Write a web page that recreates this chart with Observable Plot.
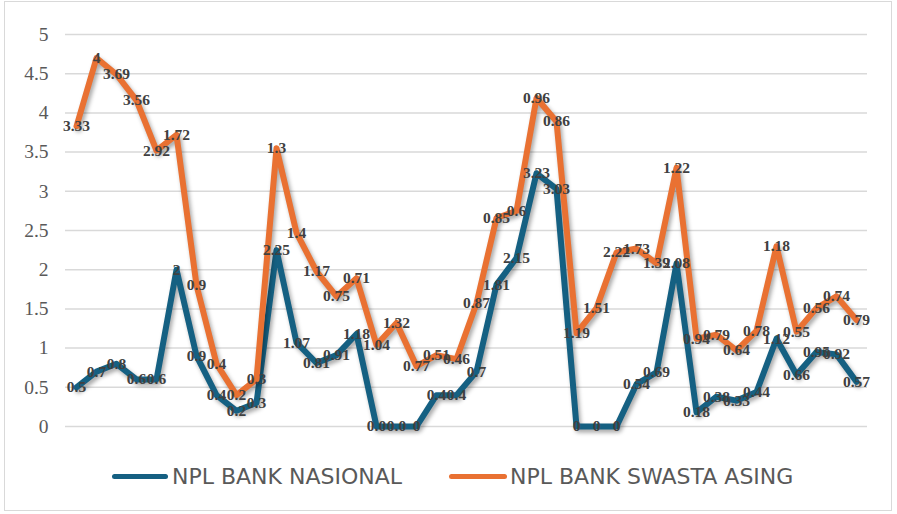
<!DOCTYPE html>
<html>
<head>
<meta charset="utf-8">
<script src="https://cdn.jsdelivr.net/npm/d3@7"></script>
<script src="https://cdn.jsdelivr.net/npm/@observablehq/plot@0.6"></script>
<style>
  html, body { margin: 0; padding: 0; background: #fff; }
  #wrap { position: relative; width: 897px; height: 514px; overflow: hidden; background: #fff; }
  #frame { position: absolute; left: 4px; top: 1px; width: 888px; height: 510px; border: 1.5px solid #d9d9d9; box-sizing: border-box; pointer-events: none; }
  #chart { position: absolute; left: 0; top: 0; }
  #chart g[aria-label="line"] { filter: drop-shadow(2px 3px 2px rgba(0,0,0,0.35)); }
  #legend { position: absolute; left: 112px; top: 462px; height: 28px; display: flex; align-items: center;
            font-family: "DejaVu Sans", Verdana, sans-serif; font-size: 22px; color: #595959; white-space: nowrap; }
  .sw { height: 5px; border-radius: 3px; display: inline-block; }
</style>
</head>
<body>
<div id="wrap">
  <div id="chart"></div>
  <div id="legend">
    <span class="sw" style="width:56px;background:#156082;margin-right:4px"></span>
    <span id="lab1"></span>
    <span class="sw" style="width:58px;background:#E97132;margin-left:47px;margin-right:3px"></span>
    <span id="lab2"></span>
  </div>
  <div id="frame"></div>
</div>
<script>
const seriesNames = ["NPL BANK NASIONAL", "NPL BANK SWASTA ASING"];
const periods = [1,2,3,4,5,6,7,8,9,10,11,12,13,14,15,16,17,18,19,20,21,22,23,24,25,26,27,28,29,30,31,32,33,34,35,36,37,38,39,40];
const nplNasional = [0.5,0.7,0.8,0.6,0.6,2,0.9,0.4,0.2,0.3,2.25,1.07,0.81,0.91,1.18,0,0,0,0.4,0.4,0.7,1.81,2.15,3.23,3.03,0,0,0,0.54,0.69,2.08,0.18,0.38,0.33,0.44,1.12,0.66,0.95,0.92,0.57];
const nplNasionalLabels = ["0.5","0.7","0.8","0.6","0.6","2","0.9","0.4","0.2","0.3","2.25","1.07","0.81","0.91","1.18","0.0","0.0","0","0.4","0.4","0.7","1.81","2.15","3.23","3.03","0","0","0","0.54","0.69","2.08","0.18","0.38","0.33","0.44","1.12","0.66","0.95","0.92","0.57"];
const nplSwastaAsing = [3.33,4,3.69,3.56,2.92,1.72,0.9,0.4,0.2,0.3,1.3,1.4,1.17,0.75,0.71,1.04,1.32,0.77,0.51,0.46,0.87,0.85,0.6,0.96,0.86,1.19,1.51,2.22,1.73,1.39,1.22,0.94,0.79,0.64,0.78,1.18,0.55,0.56,0.74,0.79];
const yTicks = [0,0.5,1,1.5,2,2.5,3,3.5,4,4.5,5];

document.getElementById("lab1").textContent = seriesNames[0];
document.getElementById("lab2").textContent = seriesNames[1];

// stacked line chart: second series drawn on top of the first
const rows = periods.map((p, i) => ({
  period: p,
  a: nplNasional[i],
  aLabel: nplNasionalLabels[i],
  b: nplSwastaAsing[i],
  total: nplNasional[i] + nplSwastaAsing[i],
  bLabel: String(nplSwastaAsing[i])
}));

const serif = "'Liberation Serif', 'Times New Roman', serif";
const labelStyle = {
  fontFamily: serif,
  fontWeight: "bold",
  fontSize: 15.5,
  fill: "#404040"
};

const chart = Plot.plot({
  width: 897,
  height: 450,
  marginLeft: 65,
  marginRight: 30,
  marginTop: 34,
  marginBottom: 24,
  style: { background: "transparent", overflow: "visible" },
  x: { type: "point", domain: periods, padding: 0.5, axis: null },
  y: { domain: [0, 5], axis: null },
  marks: [
    Plot.ruleY(yTicks, { stroke: "#d9d9d9", strokeWidth: 1.5 }),
    // y-axis tick labels, positioned through the y scale
    Plot.text(yTicks, {
      y: d => d,
      text: d => String(d),
      frameAnchor: "left",
      textAnchor: "end",
      dx: -17,
      fontSize: 19.5,
      fontFamily: serif,
      fill: "#595959"
    }),
    Plot.lineY(rows, { x: "period", y: "a", stroke: "#156082", strokeWidth: 6, strokeLinejoin: "round", strokeLinecap: "round" }),
    Plot.lineY(rows, { x: "period", y: "total", stroke: "#E97132", strokeWidth: 6, strokeLinejoin: "round", strokeLinecap: "round" }),
    Plot.text(rows, { x: "period", y: "a", text: "aLabel", ...labelStyle }),
    Plot.text(rows, { x: "period", y: "total", text: "bLabel", ...labelStyle })
  ]
});
document.getElementById("chart").appendChild(chart);
</script>
</body>
</html>
